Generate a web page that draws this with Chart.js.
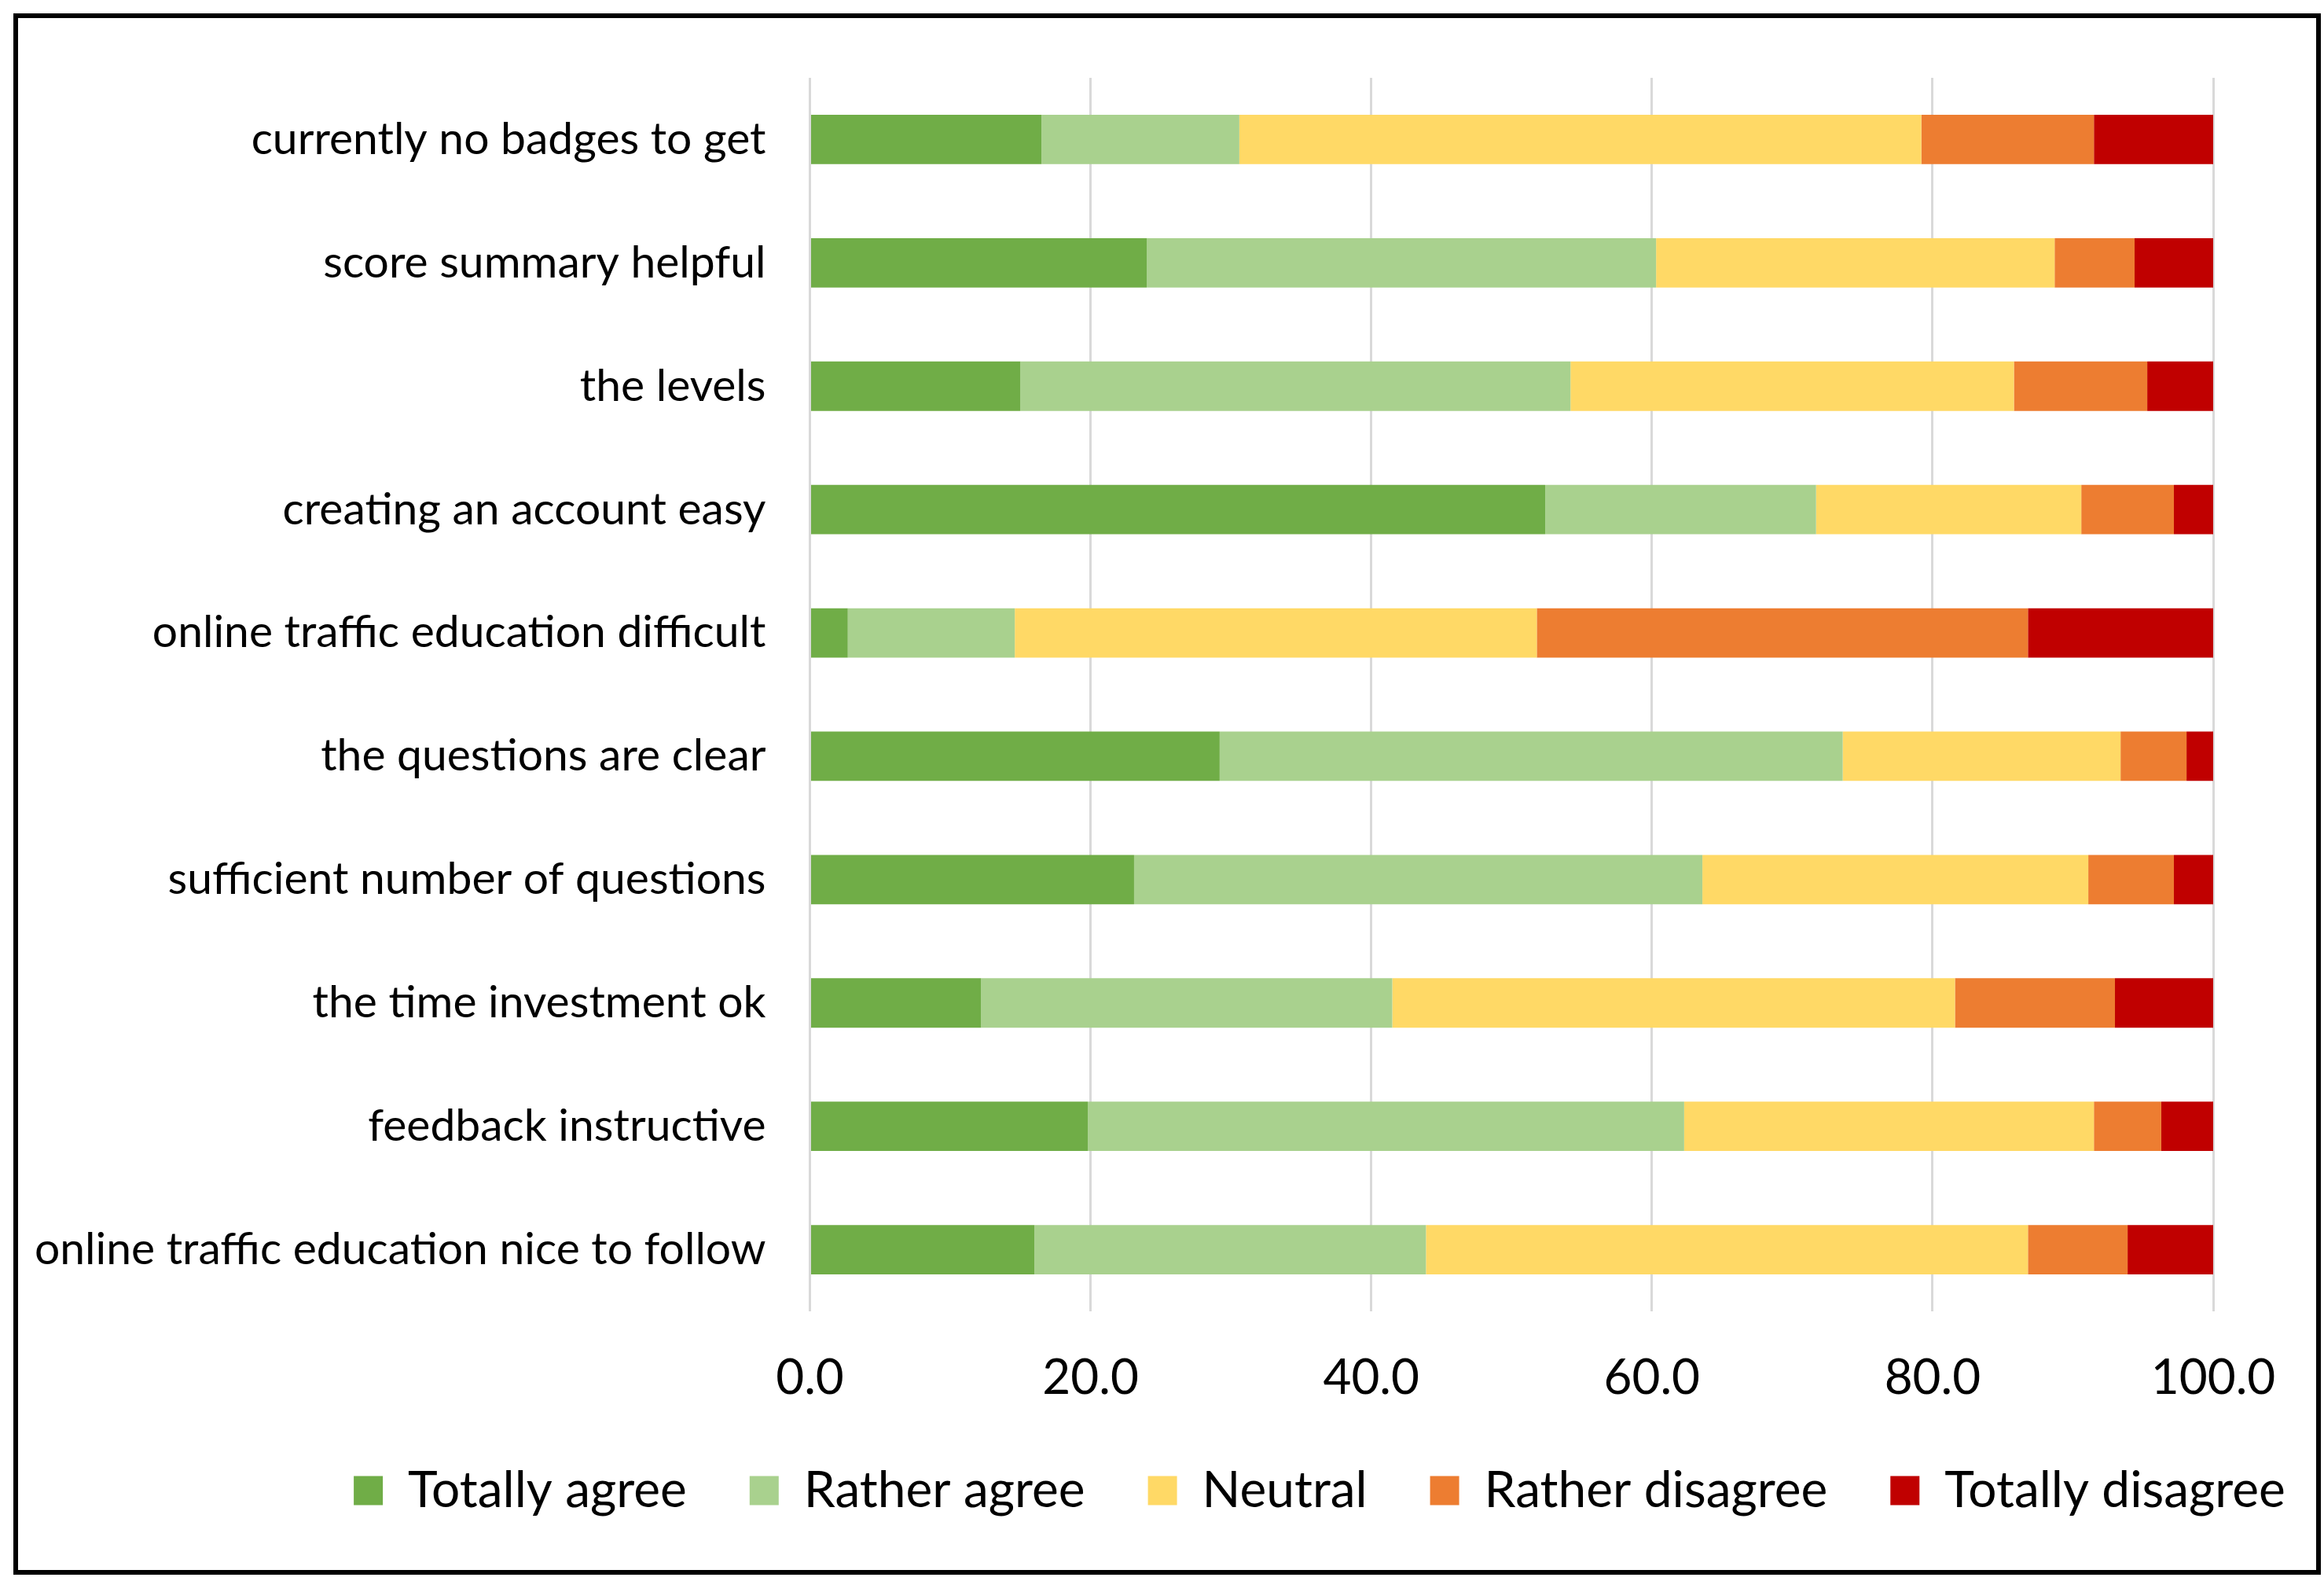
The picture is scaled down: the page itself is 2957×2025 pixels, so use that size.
<!DOCTYPE html>
<html>
<head>
<meta charset="utf-8">
<script src="https://cdn.jsdelivr.net/npm/chart.js@4.4.1/dist/chart.umd.min.js"></script>
<style>
    html, body { margin: 0; padding: 0; background: #fff; }
    #frame {
        position: absolute; left: 17px; top: 17px; width: 2936px; height: 1986px;
        box-sizing: border-box; border: 6px solid #000; pointer-events: none;
    }
    #myChart { position: absolute; left: 0; top: 0; }
</style>
</head>
<body>
<canvas id="myChart" width="2957" height="2025"></canvas>
<div id="frame"></div>
<script>
    // survey answers in percent, rows from top to bottom
    const categories = [
        'currently no badges to get',
        'score summary helpful',
        'the levels',
        'creating an account easy',
        'online traffic education difficult',
        'the questions are clear',
        'sufficient number of questions',
        'the time investment ok',
        'feedback instructive',
        'online traffic education nice to follow'
    ];
    const totallyAgree    = [16.5, 24.0, 15.0, 52.4,  2.7, 29.2, 23.1, 12.2, 19.8, 16.0];
    const ratherAgree     = [14.1, 36.3, 39.2, 19.3, 11.9, 44.4, 40.5, 29.3, 42.5, 27.9];
    const neutral         = [48.6, 28.4, 31.6, 18.9, 37.2, 19.8, 27.5, 40.1, 29.2, 42.9];
    const ratherDisagree  = [12.3,  5.7,  9.5,  6.6, 35.0,  4.7,  6.1, 11.4,  4.8,  7.1];
    const totallyDisagree = [ 8.5,  5.6,  4.7,  2.8, 13.2,  1.9,  2.8,  7.0,  3.7,  6.1];
    const xTicks = [0, 20, 40, 60, 80, 100];

    const font = 'Lato';

    // excel centres the legend a bit right of the canvas middle and closer to the axis
    const legendShift = {
        id: 'legendShift',
        afterLayout(chart) {
            const lg = chart.legend;
            lg.left += 271;
            lg.right += 271;
            lg.top -= 14;
            lg.bottom -= 14;
        }
    };

    window.onload = () => {
        const data = {
            labels: categories,
            datasets: [
                { label: 'Totally agree', data: totallyAgree, backgroundColor: '#70AD47' },
                { label: 'Rather agree', data: ratherAgree, backgroundColor: '#A9D18E' },
                { label: 'Neutral', data: neutral, backgroundColor: '#FFD966' },
                { label: 'Rather disagree', data: ratherDisagree, backgroundColor: '#ED7D31' },
                { label: 'Totally disagree', data: totallyDisagree, backgroundColor: '#C00000' }
            ]
        };
        data.datasets.forEach(ds => {
            ds.borderWidth = 0;
            ds.barPercentage = 0.4;
            ds.categoryPercentage = 1.0;
        });

        const config = {
            type: 'bar',
            data: data,
            plugins: [legendShift],
            options: {
                indexAxis: 'y',
                responsive: false,
                animation: false,
                devicePixelRatio: 1,
                layout: { padding: { left: 0, right: 141, top: 99, bottom: 73 } },
                plugins: {
                    tooltip: { enabled: false },
                    legend: {
                        position: 'bottom',
                        labels: {
                            color: '#000',
                            font: { family: font, size: 64 },
                            boxWidth: 37,
                            boxHeight: 37,
                            padding: 80
                        }
                    }
                },
                scales: {
                    x: {
                        stacked: true,
                        min: 0,
                        max: 100,
                        afterBuildTicks: (scale) => {
                            scale.ticks = xTicks.map(v => ({ value: v }));
                        },
                        afterFit: (scale) => { scale.height = 130; },
                        ticks: {
                            color: '#000',
                            font: { family: font, size: 62 },
                            padding: 48,
                            maxRotation: 0,
                            callback: (v) => Number(v).toFixed(1)
                        },
                        grid: { color: '#d9d9d9', lineWidth: 3, drawTicks: false },
                        border: { display: false }
                    },
                    y: {
                        stacked: true,
                        afterFit: (scale) => { scale.width = 1030.5; },
                        ticks: {
                            color: '#000',
                            font: { family: font, size: 57 },
                            padding: 56
                        },
                        grid: { display: false, drawTicks: false },
                        border: { display: false }
                    }
                }
            }
        };
        const myChart = new Chart(document.getElementById('myChart'), config);
    };
</script>
</body>
</html>
